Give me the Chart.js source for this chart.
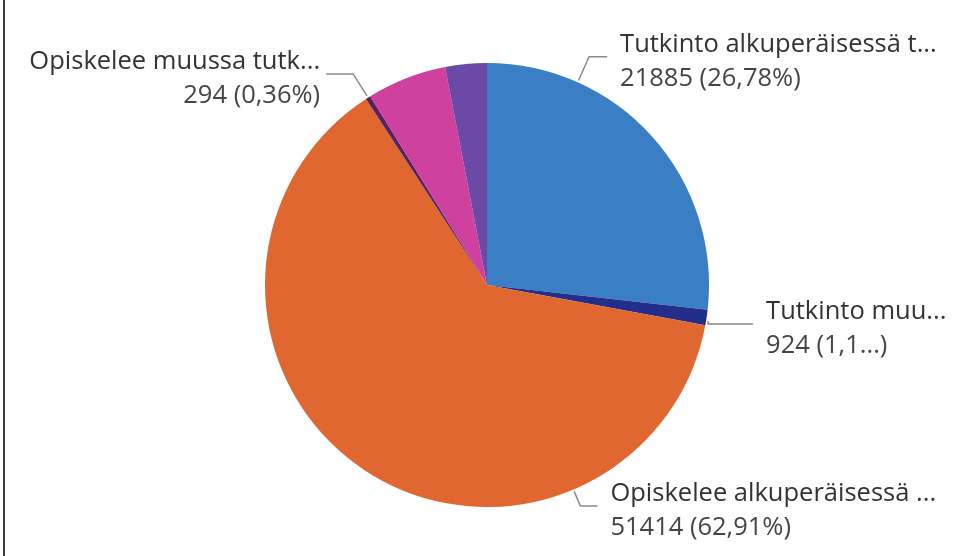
<!DOCTYPE html>
<html>
<head>
<meta charset="utf-8">
<script src="https://cdn.jsdelivr.net/npm/chart.js@4.4.0/dist/chart.umd.min.js"></script>
<style>
    html, body { margin: 0; padding: 0; background: #fff; }
    #wrap { position: relative; width: 963px; height: 556px; }
    #edge { position: absolute; left: 3px; top: 0; width: 2px; height: 556px; background: #3d3d3d; }
</style>
</head>
<body>
<div id="wrap">
    <canvas id="piechart" width="963" height="556"></canvas>
    <div id="edge"></div>
</div>
<script>
var categories = ['Tutkinto alkuperäisessä tutkinnossa', 'Tutkinto muussa tutkinnossa', 'Opiskelee alkuperäisessä tutkinnossa', 'Opiskelee muussa tutkinnossa', 'Ei opiskele', 'Muu'];
var shortLabels = ['Tutkinto alkuperäisessä t...', 'Tutkinto muu...', 'Opiskelee alkuperäisessä ...', 'Opiskelee muussa tutk...', '', ''];
var valueLabels = ['21885 (26,78%)', '924 (1,1...)', '51414 (62,91%)', '294 (0,36%)', '', ''];
var counts = [21885, 924, 51414, 294, 4735, 2470];
var colours = ['#3a7ec4', '#232e8a', '#e0672f', '#5a2062', '#cf419f', '#6a4aa4'];

// where each callout leaves its slice (fraction of slice), radial push, horizontal run
var callouts = {
    0: { at: 0.25, push: 28, run: 18 },
    1: { at: 0.70, push: 0, run: 45 },
    2: { at: 0.25, push: 18, run: 17 },
    3: { at: 0.50, push: 28, run: -27 }
};

var calloutPlugin = {
    id: 'callouts',
    afterDraw: function(chart) {
        var ctx = chart.ctx;
        var arcs = chart.getDatasetMeta(0).data;
        ctx.save();
        ctx.font = '25.5px "Segoe UI", "Open Sans", sans-serif';
        ctx.textBaseline = 'middle';
        Object.keys(callouts).forEach(function(k) {
            var i = parseInt(k);
            var c = callouts[i];
            var arc = arcs[i];
            var a = arc.startAngle + (arc.endAngle - arc.startAngle) * c.at;
            var r = arc.outerRadius;
            var x0 = arc.x + Math.cos(a) * (r + 2);
            var y0 = arc.y + Math.sin(a) * (r + 2);
            var x1 = arc.x + Math.cos(a) * (r + c.push);
            var y1 = arc.y + Math.sin(a) * (r + c.push);
            if (c.push === 0) { x1 = x0; y1 = y0 + 3; }
            var x2 = x1 + c.run;
            ctx.strokeStyle = '#8a8a8a';
            ctx.lineWidth = 1.5;
            ctx.beginPath();
            ctx.moveTo(x0, y0);
            ctx.lineTo(x1, y1);
            ctx.lineTo(x2, y1);
            ctx.stroke();
            var tx = c.run > 0 ? x2 + 13 : x2 - 6;
            ctx.textAlign = c.run > 0 ? 'left' : 'right';
            ctx.fillStyle = '#333333';
            ctx.fillText(shortLabels[i], tx, y1 - 12);
            ctx.fillStyle = '#454545';
            ctx.fillText(valueLabels[i], tx, y1 + 22);
        });
        ctx.restore();
    }
};

var pieData = {
    labels: categories,
    datasets: [{
        data: counts,
        backgroundColor: colours,
        borderWidth: 0
    }]
};

var ctx = document.getElementById('piechart').getContext('2d');
window.myPie = new Chart(ctx, {
    type: 'pie',
    data: pieData,
    options: {
        responsive: false,
        animation: false,
        layout: { padding: { top: 63, bottom: 49, left: 11, right: 0 } },
        plugins: {
            legend: { display: false },
            tooltip: { enabled: false }
        }
    },
    plugins: [calloutPlugin]
});
</script>
</body>
</html>
